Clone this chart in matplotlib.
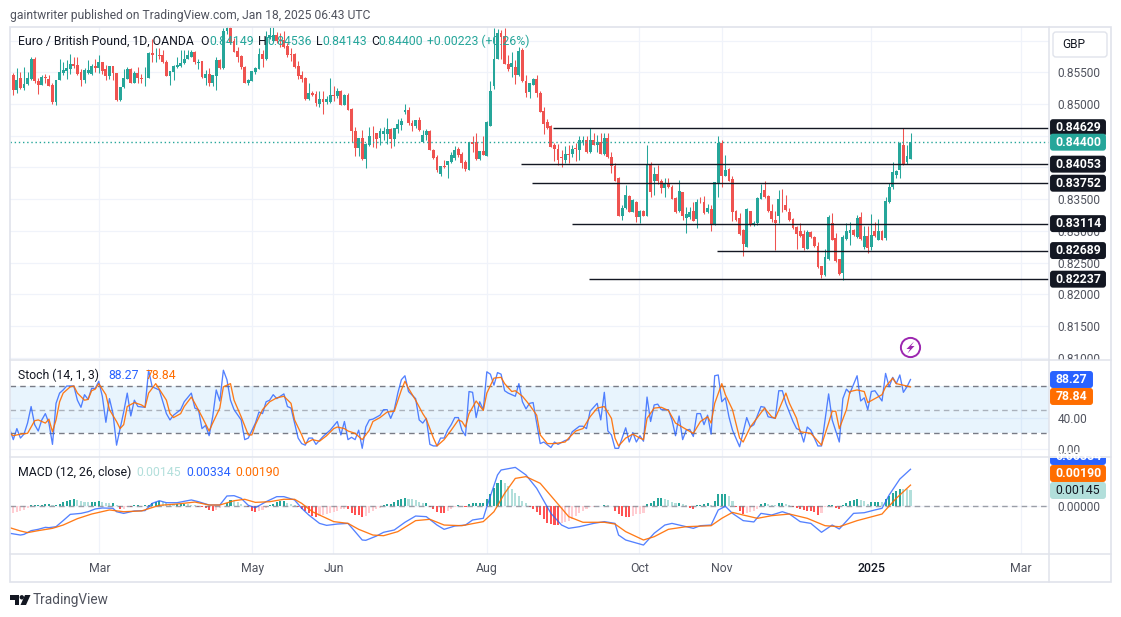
import numpy as np
import matplotlib
matplotlib.use("Agg")
import matplotlib.pyplot as plt
from matplotlib.patches import Rectangle, FancyBboxPatch, Circle, Polygon

plt.rcParams["font.family"] = ["Roboto", "DejaVu Sans"]

W, H = 1121, 617
PANE_L, PANE_R = 10, 1049

# EUR/GBP daily candles, in pips (price * 10000)
opens = [8546,8522,8541,8525,8532,8540,8571,8537,8530,8543,8540,8530,8504,8538,8549,8553,8556,8563,8562,8550,
         8538,8549,8548,8560,8557,8566,8555,8545,8561,8549,8507,8527,8540,8556,8534,8549,8541,8541,8542,8581,
         8577,8577,8578,8566,8545,8551,8559,8561,8565,8571,8575,8583,8565,8568,8542,8548,8534,8544,8570,8557,
         8615,8621,8599,8584,8576,8559,8533,8537,8550,8556,8579,8572,8605,8600,8609,8600,8602,8592,8579,8579,
         8560,8546,8542,8508,8517,8516,8501,8508,8503,8504,8514,8513,8521,8499,8514,8492,8458,8431,8446,8413,
         8436,8450,8454,8446,8453,8453,8460,8445,8461,8467,8487,8491,8470,8466,8475,8440,8451,8458,8428,8416,
         8389,8402,8404,8409,8415,8429,8421,8408,8396,8440,8440,8413,8426,8418,8465,8529,8571,8613,8607,8564,
         8558,8559,8546,8586,8537,8519,8530,8539,8517,8489,8472,8465,8436,8429,8417,8412,8421,8421,8430,8428,
         8441,8443,8424,8443,8436,8440,8422,8447,8417,8403,8383,8324,8336,8355,8330,8346,8322,8331,8324,8406,
         8378,8390,8379,8368,8376,8370,8352,8331,8361,8320,8322,8331,8319,8346,8345,8329,8334,8311,8376,8438,
         8387,8398,8382,8331,8321,8301,8275,8331,8309,8312,8351,8364,8355,8331,8317,8324,8346,8341,8330,8319,
         8306,8300,8295,8272,8298,8291,8276,8244,8230,8255,8312,8288,8255,8233,8287,8296,8301,8290,8322,8274,
         8292,8274,8300,8286,8300,8289,8345,8369,8388,8396,8435,8408,8414]
highs = [8549,8557,8551,8559,8551,8574,8574,8542,8546,8548,8546,8533,8538,8571,8567,8570,8579,8575,8575,8555,
         8557,8569,8564,8571,8577,8567,8562,8561,8561,8549,8527,8556,8559,8557,8552,8559,8548,8559,8583,8603,
         8588,8588,8586,8570,8552,8562,8575,8586,8586,8586,8586,8584,8572,8568,8554,8557,8546,8575,8572,8620,
         8624,8625,8605,8591,8578,8560,8540,8553,8559,8588,8586,8615,8622,8622,8614,8613,8615,8597,8589,8581,
         8568,8553,8543,8533,8520,8520,8520,8520,8513,8541,8528,8525,8522,8516,8517,8494,8464,8447,8459,8438,
         8464,8466,8455,8462,8464,8478,8463,8463,8476,8478,8500,8495,8475,8475,8479,8459,8461,8459,8429,8420,
         8402,8412,8411,8425,8434,8433,8425,8412,8440,8449,8455,8426,8450,8473,8536,8620,8618,8617,8621,8578,
         8583,8570,8591,8588,8546,8534,8542,8546,8521,8495,8477,8467,8438,8437,8428,8434,8436,8436,8438,8449,
         8449,8449,8463,8454,8451,8454,8454,8454,8424,8407,8385,8341,8372,8356,8351,8347,8333,8333,8436,8409,
         8401,8404,8382,8383,8384,8373,8354,8380,8362,8337,8337,8346,8350,8354,8355,8343,8341,8377,8449,8443,
         8420,8399,8387,8333,8328,8303,8336,8332,8316,8353,8374,8378,8356,8342,8331,8365,8366,8357,8336,8320,
         8307,8313,8302,8301,8299,8292,8283,8245,8272,8325,8328,8296,8256,8293,8313,8314,8303,8325,8329,8307,
         8307,8327,8314,8318,8301,8353,8375,8408,8396,8441,8463,8435,8454]
lows = [8514,8518,8524,8522,8530,8538,8533,8516,8530,8533,8529,8500,8499,8538,8546,8539,8548,8557,8546,8529,
        8533,8548,8546,8551,8549,8548,8538,8540,8538,8505,8505,8525,8539,8534,8533,8533,8533,8528,8541,8567,
        8567,8572,8565,8545,8530,8538,8557,8558,8564,8571,8575,8564,8555,8542,8530,8528,8529,8523,8555,8555,
        8610,8595,8582,8567,8556,8533,8530,8537,8548,8555,8558,8570,8603,8598,8596,8590,8588,8574,8568,8557,
        8540,8535,8506,8506,8513,8497,8496,8485,8500,8502,8505,8510,8498,8498,8490,8441,8418,8418,8412,8399,
        8434,8433,8430,8436,8443,8437,8430,8434,8455,8459,8484,8467,8458,8462,8458,8440,8443,8427,8414,8393,
        8387,8399,8384,8407,8412,8416,8399,8395,8396,8425,8412,8412,8419,8418,8465,8524,8571,8572,8563,8552,
        8543,8532,8545,8535,8512,8509,8530,8511,8487,8453,8461,8432,8411,8404,8401,8407,8407,8417,8410,8412,
        8436,8423,8423,8435,8425,8421,8420,8415,8391,8378,8324,8317,8335,8329,8329,8314,8312,8323,8323,8354,
        8357,8374,8360,8354,8368,8350,8328,8329,8317,8296,8319,8315,8304,8344,8327,8328,8300,8310,8354,8370,
        8386,8378,8316,8316,8293,8261,8274,8308,8308,8310,8350,8352,8330,8314,8269,8312,8330,8332,8316,8303,
        8272,8291,8270,8271,8289,8275,8242,8226,8228,8254,8285,8251,8231,8223,8285,8278,8292,8288,8286,8272,
        8265,8270,8291,8285,8285,8285,8344,8366,8383,8384,8404,8405,8414]
closes = [8522,8538,8525,8532,8541,8571,8536,8530,8543,8541,8529,8504,8538,8551,8554,8557,8564,8561,8548,8538,
          8554,8554,8561,8557,8566,8553,8545,8561,8549,8507,8527,8541,8556,8534,8549,8541,8540,8542,8581,8577,
          8577,8576,8566,8545,8552,8561,8562,8565,8572,8577,8583,8566,8567,8543,8548,8534,8546,8570,8557,8616,
          8621,8598,8583,8574,8558,8534,8538,8552,8557,8579,8572,8606,8609,8609,8599,8599,8591,8578,8578,8559,
          8545,8540,8508,8517,8515,8502,8508,8503,8508,8514,8513,8521,8499,8514,8491,8457,8431,8446,8413,8437,
          8450,8449,8445,8457,8458,8460,8445,8462,8468,8473,8491,8470,8466,8475,8459,8452,8458,8428,8415,8396,
          8402,8400,8411,8420,8428,8420,8407,8397,8440,8437,8413,8426,8419,8472,8521,8571,8613,8606,8563,8556,
          8565,8546,8584,8536,8518,8534,8539,8517,8488,8469,8463,8433,8429,8412,8415,8422,8420,8429,8429,8443,
          8444,8424,8443,8436,8440,8422,8447,8416,8403,8379,8324,8336,8357,8330,8349,8322,8331,8324,8406,8362,
          8390,8378,8368,8375,8370,8351,8329,8363,8324,8326,8330,8316,8346,8345,8328,8336,8311,8377,8438,8386,
          8396,8379,8330,8317,8295,8279,8334,8309,8313,8352,8359,8353,8331,8319,8312,8351,8345,8333,8317,8304,
          8295,8292,8273,8298,8290,8276,8243,8230,8258,8322,8286,8252,8232,8291,8300,8302,8293,8320,8287,8292,
          8273,8293,8292,8300,8286,8347,8369,8393,8394,8439,8405,8418,8440]

last_price = 0.84400
levels = [0.84629, 0.84053, 0.83752, 0.83114, 0.82689, 0.82237]
level_starts = [152.6, 143.6, 146.7, 157.8, 198.7, 162.7]
level_labels = ["0.84629", "0.84053", "0.83752", "0.83114", "0.82689", "0.82237"]

price_ticks = [0.86, 0.855, 0.85, 0.845, 0.84, 0.835, 0.83, 0.825, 0.82, 0.815, 0.81]
# 0.86, 0.845 and 0.84 sit fully behind the button and the tags, so no text for them
price_tick_labels = ["", "0.85500", "0.85000", "", "", "0.83500", "0.83000", "0.82500", "0.82000", "0.81500", "0.81000"]
month_pos = [25.2, 68.1, 90.9, 134, 176.8, 200, 242, 284]
month_names = ["Mar", "May", "Jun", "Aug", "Oct", "Nov", "2025", "Mar"]

# stochastic %K and %D, candle number + value
stoch_k_idx = [0,1,2,3,4,5,6,7,8,9,10,11,12,13,14,15,16,18,19,20,21,22,23,24,25,26,27,28,29,30,32,33,34,35,36,38,39,40,41,42,
               44,45,46,48,49,51,52,53,54,55,56,57,58,59,60,61,62,63,65,66,67,69,70,71,72,73,74,75,77,78,79,81,82,83,84,85,86,88,90,92,
               93,94,95,96,97,98,99,100,101,102,104,105,106,107,108,109,110,111,112,114,115,116,117,118,119,120,121,122,123,124,125,126,127,128,129,130,131,132,133,134,
               135,136,137,138,139,140,142,143,144,145,146,147,149,150,152,153,154,156,157,158,160,161,162,163,165,166,167,168,169,170,171,173,174,175,176,177,178,179,180,181,
               182,183,185,186,187,188,189,190,191,192,193,194,195,196,197,198,199,200,201,202,203,205,207,208,209,211,212,213,215,216,217,218,220,221,222,223,224,225,227,228,
               230,231,233,234,235,236,238,239,240,241,242,243,245,246,247,248,249,250,251,252,253]
stoch_k = [25,12,26,14,19,33,54,31,23,37,45,33,6,58,71,75,80,80,62,53,69,63,77,77,86,67,34,64,45,5,47,71,42,62,54,53,100,79,77,75,
           45,37,43,50,60,71,52,50,26,30,17,41,75,61,100,88,62,50,37,12,14,33,47,45,60,62,69,64,70,54,52,14,7,5,14,14,6,16,24,35,
           18,35,12,15,12,24,1,28,37,38,43,50,50,39,50,71,88,93,73,64,37,33,39,6,4,4,14,14,24,31,40,40,24,17,73,72,40,60,50,98,
           95,81,97,95,74,71,67,83,60,51,58,59,7,9,2,9,6,11,12,22,29,29,26,48,58,37,72,23,18,1,1,27,9,21,9,17,10,66,35,56,
           57,50,50,37,17,42,12,24,25,16,45,45,31,43,19,93,94,60,65,41,24,3,40,28,31,54,53,41,39,74,74,58,35,26,24,9,28,24,4,4,
           70,37,9,64,76,71,93,61,65,50,73,74,61,96,79,91,83,94,72,79,88.27]
stoch_d_idx = [0,1,3,5,7,8,10,11,12,13,14,15,17,18,19,21,22,23,24,25,27,28,30,31,32,33,35,37,38,39,41,42,44,45,46,48,49,51,52,54,
               56,57,59,60,62,63,65,67,68,69,71,73,75,77,79,80,82,83,85,87,89,91,92,94,95,97,99,101,102,104,106,108,110,111,112,114,116,117,119,120,
               122,124,126,127,128,129,131,133,134,136,138,139,141,142,144,146,148,149,151,153,156,157,159,161,163,165,167,169,170,171,173,175,177,178,179,181,183,185,187,190,
               192,194,196,197,198,200,201,203,205,206,208,209,212,214,215,218,219,221,222,225,228,230,231,232,233,235,236,238,240,241,243,245,246,248,249,251,253]
stoch_d = [20,17,19,20,36,37,33,38,22,37,60,71,79,80,71,62,63,74,76,83,69,50,35,26,31,54,59,56,53,71,83,76,62,45,40,45,54,66,58,41,
           23,33,52,79,83,62,41,18,18,31,50,60,65,67,58,37,18,7,12,10,17,26,28,26,23,20,12,24,35,40,47,48,75,86,77,62,45,38,14,4,
           12,24,37,35,28,45,61,49,71,90,91,83,73,74,67,56,43,18,7,7,9,14,23,26,41,52,54,39,14,4,14,19,14,12,39,52,53,49,33,25,
           20,35,41,33,58,83,69,50,14,9,28,34,52,41,39,71,58,39,22,20,5,33,48,48,26,50,73,75,73,59,64,69,79,90,83,81,78.84]

# MACD line, signal line (in 1e-5), candle number + value
macd_idx = [0,3,4,6,8,10,11,13,15,17,20,22,24,26,29,30,32,35,38,40,42,44,47,51,53,56,59,61,63,65,67,69,72,75,77,80,82,84,87,89,
            92,95,97,99,100,103,105,108,111,114,117,120,122,125,128,130,133,134,137,138,142,145,148,152,155,157,160,164,167,170,171,173,178,181,184,186,188,192,194,197,
            199,201,203,206,209,211,214,217,219,222,225,228,231,233,237,240,243,245,247,250,253]
macd_line = [-248,-264,-258,-224,-212,-194,-197,-188,-133,-76,-67,-52,-27,-18,-21,-52,-67,-45,-42,24,48,30,30,55,39,9,9,91,94,70,6,-15,39,85,85,55,-21,-82,-158,-176,
             -164,-158,-233,-309,-312,-273,-239,-218,-148,-91,-97,-173,-212,-182,-173,-127,-112,-6,282,327,351,282,161,-67,-173,-203,-188,-158,-142,-158,-264,-309,-355,-248,-173,-158,-173,-203,-179,-173,
             -36,-3,-67,-133,-145,-67,-82,-52,-73,-142,-158,-239,-173,-209,-67,-61,-36,-21,100,245,334]
signal_idx = [0,3,5,8,12,15,19,23,28,32,37,42,47,52,56,59,63,66,69,73,77,80,82,85,89,91,95,98,102,105,109,114,118,122,127,133,136,139,142,145,
              149,153,157,161,167,170,173,178,181,185,190,197,200,203,206,210,214,219,224,229,233,238,245,246,249,253]
signal_line = [-197,-227,-242,-224,-203,-173,-115,-73,-36,-52,-45,6,18,36,9,9,48,61,33,39,61,61,24,-52,-112,-142,-158,-212,-264,-270,-233,-133,-121,-173,-179,-142,-52,115,251,267,
               206,55,-97,-148,-148,-164,-233,-309,-279,-212,-188,-179,-112,-58,-82,-112,-88,-73,-112,-179,-188,-133,-73,-36,70,190]
macd_hist = [-60,-54,-45,-36,-18,6,9,12,12,15,15,6,12,21,36,45,57,60,54,42,39,36,36,36,42,36,27,24,30,12,-24,-24,-6,-9,6,6,-3,6,9,30,
             36,42,36,24,21,15,15,15,21,18,9,6,-6,-9,-15,-36,-42,-36,-18,3,30,51,42,36,15,3,-12,-42,-54,-48,-36,-15,9,18,36,42,42,30,18,9,
             -9,-24,-45,-66,-90,-96,-90,-84,-72,-66,-54,-42,-30,-24,-30,-60,-81,-84,-96,-90,-66,-45,-30,-15,9,21,21,39,51,60,75,66,60,54,36,27,30,-6,-30,-54,
             -60,-66,-45,-24,-12,6,3,-9,15,30,30,30,30,66,105,165,210,240,210,180,150,114,90,45,24,-9,-24,-54,-84,-120,-150,-165,-171,-174,-150,-144,-135,-114,-90,-60,
             -42,-24,-12,-6,0,3,12,6,0,-42,-72,-90,-96,-99,-90,-75,-75,-60,15,24,48,69,69,66,54,39,24,24,18,6,-15,-24,6,9,15,24,9,45,105,105,105,90,45,-9,
             -42,-72,-60,-54,-45,-24,15,27,18,12,9,24,24,18,12,-9,-21,-30,-36,-42,-45,-54,-78,-66,-9,6,6,-15,-30,9,27,42,51,60,54,45,21,33,36,39,33,60,90,114,135,156,153,150,145]

UP, DOWN = "#26a69a", "#ef5350"
GRID = "#f0f3fa"
BORDER = "#e0e3eb"
TEXT = "#131722"
AXTEXT = "#50535e"
BLUE, ORANGE = "#2962ff", "#ff6d00"

fig = plt.figure(figsize=(W / 100, H / 100), dpi=100, facecolor="white")


def pane(top, bottom, ymin, ymax):
    ax = fig.add_axes([PANE_L / W, 1 - bottom / H, (PANE_R - PANE_L) / W, (bottom - top) / H])
    ax.set_xlim(0.07, 291.9)
    ax.set_ylim(ymin, ymax)
    for s in ax.spines.values():
        s.set_visible(False)
    ax.yaxis.tick_right()
    ax.tick_params(axis="both", length=0, labelsize=8.6, labelcolor=AXTEXT)
    ax.tick_params(axis="y", pad=6.2)
    ax.set_xticks(month_pos)
    ax.set_xticklabels([])
    ax.grid(True, color=GRID, lw=0.9)
    ax.set_axisbelow(True)
    return ax


# price pane
ax = pane(27, 360, 0.80961, 0.86218)
days = np.arange(1, len(closes) + 1)
o, h, l, c = [np.array(v) / 10000 for v in (opens, highs, lows, closes)]
colors = [UP if cc >= oo else DOWN for oo, cc in zip(o, c)]
ax.vlines(days, l, h, colors=colors, lw=0.75)
ax.bar(days, np.maximum(np.abs(c - o), 0.00003), bottom=np.minimum(o, c), width=0.8, color=colors, lw=0)
ax.axhline(last_price, color=UP, lw=1, ls=(0, (1, 2)))
for lv, st in zip(levels, level_starts):
    ax.hlines(lv, st, 291.9, color=TEXT, lw=1)
ax.set_yticks(price_ticks)
ax.set_yticklabels(price_tick_labels)

# stochastic pane
ax2 = pane(361, 457, -10, 111.7)
ax2.axhspan(20, 80, color="#2196f3", alpha=0.1, lw=0)
ax2.axhline(80, color="#787b86", lw=1, ls=(0, (4, 3)))
ax2.axhline(50, color="#787b86", lw=1, ls=(0, (4, 3)), alpha=0.55)
ax2.axhline(20, color="#787b86", lw=1, ls=(0, (4, 3)))
ax2.plot(stoch_k_idx, stoch_k, color=BLUE, lw=0.95, alpha=0.8)
ax2.plot(stoch_d_idx, stoch_d, color=ORANGE, lw=0.95, alpha=0.9)
ax2.set_yticks([40, 0])
ax2.set_yticklabels(["40.00", "0.00"])

# MACD pane
ax3 = pane(458, 554, -0.004363, 0.004363)
hist = np.array(macd_hist) / 1e5
prev = np.r_[hist[0], hist[:-1]]
hist_colors = []
for v, p in zip(hist, prev):
    if v >= 0:
        hist_colors.append(UP if v >= p else "#b2dfdb")
    else:
        hist_colors.append("#ff5252" if v < p else "#ffcdd2")
ax3.axhline(0, color="#787b86", lw=1, ls=(0, (4, 3)), alpha=0.7)
ax3.bar(days, hist, width=0.58, color=hist_colors, lw=0)
ax3.plot(macd_idx, np.array(macd_line) / 1e5, color=BLUE, lw=0.95, alpha=0.8)
ax3.plot(signal_idx, np.array(signal_line) / 1e5, color=ORANGE, lw=0.95, alpha=0.9)
ax3.set_yticks([0])
ax3.set_yticklabels(["0.00000"])
ax3.set_xticklabels(month_names)
ax3.tick_params(axis="x", pad=6, labelcolor=AXTEXT, labelsize=8.8)
ax3.get_xticklabels()[6].set_color(TEXT)
ax3.get_xticklabels()[6].set_fontweight("medium")

# page chrome in pixels: frame, tags, legends
top = fig.add_axes([0, 0, 1, 1], zorder=10)
top.set_xlim(0, W)
top.set_ylim(H, 0)
top.axis("off")
top.patch.set_alpha(0)

top.add_patch(Rectangle((1050, 360), 60, 9, color="white", lw=0))
for y0 in (360, 457, 554):
    top.plot([10, 1111], [y0, y0], color=BORDER, lw=1.1)
top.add_patch(Rectangle((9.5, 26.5), 1101.5, 555.5, fill=False, ec=BORDER, lw=1.2))
top.plot([1049, 1049], [26.5, 582], color=BORDER, lw=1.1)


def price_y(p):
    return 72.5 + (0.855 - p) * 6334


def tag(y, label, bg, fg="white", x0=1050, x1=1106, clip=None):
    box = FancyBboxPatch((x0 + 1, y - 7.5), x1 - x0 - 2, 15, boxstyle="round,pad=0,rounding_size=2", mutation_aspect=1,
                         fc=bg, ec=bg, lw=1.4)
    top.add_patch(box)
    t = top.text((x0 + x1) / 2, y + 0.3, label, color=fg, fontsize=8.8, ha="center", va="center",
                 fontweight="bold" if fg == "white" else "normal")
    if clip:
        cr = Rectangle((x0 - 1, clip[0]), x1 - x0 + 2, clip[1] - clip[0], transform=top.transData)
        box.set_clip_path(cr)
        t.set_clip_path(cr)


for lv, lab in zip(levels, level_labels):
    tag(price_y(lv), lab, TEXT)
tag(price_y(last_price), "0.84400", UP)

tag(379.5, "88.27", BLUE, x1=1093)
tag(396.5, "78.84", ORANGE, x1=1093)
tag(456.5, "0.00334", BLUE, clip=(458, 465))
tag(473.5, "0.00190", ORANGE)
tag(490.5, "0.00145", "#b2dfdb", fg=TEXT)

top.add_patch(FancyBboxPatch((1053, 32), 54, 25, boxstyle="round,pad=0,rounding_size=3", fc="white", ec=BORDER, lw=1))
top.text(1062, 44.5, "GBP", color=TEXT, fontsize=8.6, va="center")

top.text(10, 15, "gaintwriter published on TradingView.com, Jan 18, 2025 06:43 UTC", color=AXTEXT, fontsize=8.75, va="center")

top.text(18, 41.5, "Euro / British Pound, 1D, OANDA", color=TEXT, fontsize=8.8, va="center")
for x, s, col in [(200, "O", TEXT), (209, "0.84149", UP), (258, "H", TEXT), (267, "0.84536", UP), (316, "L", TEXT),
                  (322, "0.84143", UP), (371, "C", TEXT), (378, "0.84400", UP), (427, "+0.00223 (+0.26%)", UP)]:
    top.text(x, 41.5, s, color=col, fontsize=8.8, va="center")

top.text(18, 375.5, "Stoch (14, 1, 3)", color=TEXT, fontsize=8.8, va="center")
top.text(108, 375.5, "88.27", color=BLUE, fontsize=8.8, va="center")
top.text(146, 375.5, "78.84", color=ORANGE, fontsize=8.8, va="center")
top.text(18, 472.5, "MACD (12, 26, close)", color=TEXT, fontsize=8.8, va="center")
top.text(136, 472.5, "0.00145", color="#b2dfdb", fontsize=8.8, va="center")
top.text(186, 472.5, "0.00334", color=BLUE, fontsize=8.8, va="center")
top.text(235, 472.5, "0.00190", color=ORANGE, fontsize=8.8, va="center")

# lightning badge
top.add_patch(Circle((910.5, 347.5), 9.6, fc="white", ec="#9c27b0", lw=1.4))
top.add_patch(Polygon([(914, 341.5), (906.5, 349), (910, 349), (907.5, 353.5), (914.5, 346), (911, 346)], fc="#9c27b0", ec="none"))

# TradingView mark
top.add_patch(Polygon([(10, 595), (19, 595), (19, 605), (14.5, 605), (14.5, 599.5), (10, 599.5)], fc=TEXT, ec="none"))
top.add_patch(Circle((21.8, 597.3), 2.2, fc=TEXT, ec="none"))
top.add_patch(Polygon([(25, 595), (30.5, 595), (26, 605), (20.5, 605)], fc=TEXT, ec="none"))
top.text(33, 600, "TradingView", color=AXTEXT, fontsize=9.8, va="center")

fig.savefig("out.png", dpi=100)
